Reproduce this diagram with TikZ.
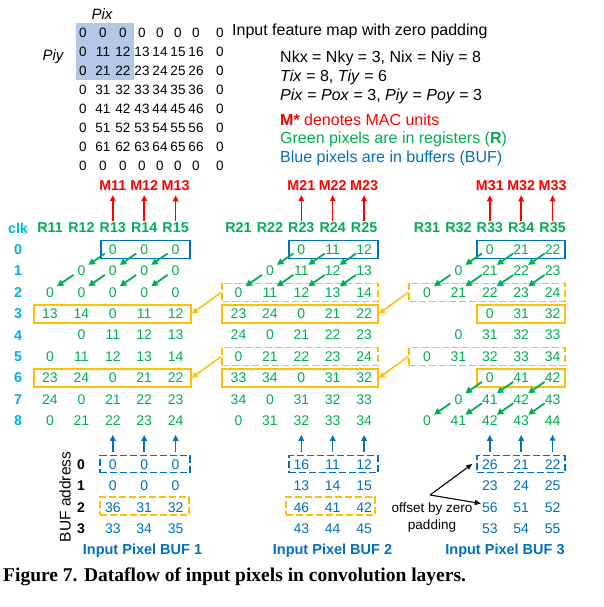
\documentclass[tikz,border=0pt]{standalone}
\usepackage{fontspec}
\setmainfont{Liberation Sans}
\newfontfamily\capfont{Liberation Serif}
\usetikzlibrary{arrows.meta}
\definecolor{cgreen}{HTML}{00B050}
\definecolor{cblue}{HTML}{0070C0}
\definecolor{cclk}{HTML}{00B0F0}
\definecolor{cyel}{HTML}{FFC000}
\definecolor{cred}{HTML}{FF0000}
\definecolor{chl}{HTML}{B4C7E7}
\tikzset{
 gnum/.style={text=cgreen, font=\fontsize{14}{14}\selectfont, inner sep=0pt},
 bnum/.style={text=cblue, font=\fontsize{14}{14}\selectfont, inner sep=0pt},
 mnum/.style={font=\fontsize{13.5}{13.5}\selectfont, inner sep=0pt},
 rlab/.style={text=cgreen, font=\bfseries\fontsize{14.3}{14.3}\selectfont, inner sep=0pt},
 mlab/.style={text=cred, font=\bfseries\fontsize{14.3}{14.3}\selectfont, inner sep=0pt},
 clab/.style={text=cclk, font=\bfseries\fontsize{14.3}{14.3}\selectfont, inner sep=0pt},
 buflab/.style={text=cblue, font=\bfseries\fontsize{14.5}{14.5}\selectfont, inner sep=0pt},
 addr/.style={font=\bfseries\fontsize{14}{14}\selectfont, inner sep=0pt},
 txt/.style={font=\fontsize{16}{16}\selectfont, inner sep=0pt, anchor=base west},
 boxbase/.style={minimum height=18pt, inner sep=0pt, line width=1.6pt},
 bluebox/.style={boxbase, draw=cblue},
 ybox/.style={boxbase, draw=cyel},
 ydash/.style={boxbase, draw=cyel, dash pattern=on 7pt off 3pt},
 bdash/.style={boxbase, minimum height=17pt, draw=cblue, dash pattern=on 7pt off 3pt},
 arrbase/.style={line width=1.5pt, -{Triangle[length=6pt,width=5.5pt]}},
 garrow/.style={arrbase, draw=cgreen, line width=1.8pt, -{Triangle[length=6.5pt,width=6.5pt]}},
 rarrow/.style={arrbase, draw=cred},
 barrow/.style={arrbase, draw=cblue},
 yarrow/.style={arrbase, draw=cyel},
 karrow/.style={line width=1.1pt, draw=black, -{Triangle[length=6pt,width=5pt]}},
}
\newcommand\grow[4]{\foreach \v [count=\k from #3] in {#4}{\node[gnum] (b#1r#2c\k) at ({50+188.5*(#1-1)+31.4*\k},{249.5+21.4*#2}) {\v};}}
\newcommand\brow[3]{\foreach \v [count=\k from 2] in {#3}{\node[bnum] (u#1r#2c\k) at ({50+188.5*(#1-1)+31.4*\k},{464.5+21.5*#2}) {\v};}}
\newcommand\mybox[5]{\node[#2, minimum width={(#4-#3)*1pt}] (#1) at ({(#3+#4)/2},#5) {};}
\newcommand\garr[3]{\pgfmathtruncatemacro\rn{#2+1}\pgfmathtruncatemacro\kn{#3-1}%
 \draw[garrow] ([shift={(-8,4)}]b#1r#2c#3.center) -- ([shift={(7,-6)}]b#1r\rn c\kn.center);}
\newcommand\mrow[2]{\foreach \v [count=\k from 0] in {#2}{\pgfmathsetmacro\mx{{83,103,123,142,160,178,196,220}[\k]}\node[mnum] (m#1c\k) at (\mx,{33+19*#1}) {\v};}}
\begin{document}
\begin{tikzpicture}[x=1pt,y=-1pt]
\path[use as bounding box, fill=white] (0,0) rectangle (603,607);
% input feature map
\node[fill=chl, minimum width=58pt, minimum height=57pt, inner sep=0pt] (hl) at (105,51.5) {};
\mrow{0}{0,0,0,0,0,0,0,0}
\mrow{1}{0,11,12,13,14,15,16,0}
\mrow{2}{0,21,22,23,24,25,26,0}
\mrow{3}{0,31,32,33,34,35,36,0}
\mrow{4}{0,41,42,43,44,45,46,0}
\mrow{5}{0,51,52,53,54,55,56,0}
\mrow{6}{0,61,62,63,64,65,66,0}
\mrow{7}{0,0,0,0,0,0,0,0}
\node[mnum, font=\itshape\fontsize{15}{15}\selectfont] (pix) at (102,14) {Pix};
\node[mnum, font=\itshape\fontsize{15}{15}\selectfont] (piy) at (53,57) {Piy};
% legend
\node[txt] (t0) at (232,35.5) {Input feature map with zero padding};
\node[txt] (t1) at (280,62.5) {Nkx = Nky = 3, Nix = Niy = 8};
\node[txt] (t2) at (280,82) {\textit{Tix} = 8, \textit{Tiy} = 6};
\node[txt] (t3) at (280,100.5) {\textit{Pix} = \textit{Pox} = 3, \textit{Piy} = \textit{Poy} = 3};
\node[txt, text=cred] (t4) at (280,125.5) {\textbf{M*} denotes MAC units};
\node[txt, text=cgreen] (t5) at (280,143.5) {Green pixels are in registers (\textbf{R})};
\node[txt, text=cblue] (t6) at (280,162.5) {Blue pixels are in buffers (BUF)};
% clk column
\node[clab] (clk) at (18,228) {clk};
\foreach \r in {0,...,8} {\node[clab] (clk\r) at (18,{249.5+21.4*\r}) {\r};}
% register and MAC labels
\foreach \b in {1,2,3} {
 \foreach \k in {0,...,4} {
  \pgfmathtruncatemacro\kk{\k+1}
  \node[rlab] (R\b\kk) at ({50+188.5*(\b-1)+31.4*\k},228) {R\b\kk};
 }
 \foreach \k in {2,3,4} {
  \pgfmathtruncatemacro\kk{\k+1}\pgfmathtruncatemacro\mm{\k-1}
  \node[mlab] (M\b\mm) at ({50+188.5*(\b-1)+31.4*\k},186) {M\b\mm};
  \draw[rarrow] ([yshift=2pt]R\b\kk.north) -- ([yshift=-4pt]M\b\mm.south);
 }
}
% boxes
\mybox{bb1}{bluebox}{101}{190}{249.5}
\mybox{s1a}{ybox}{34}{191}{313.7}
\mybox{s1b}{ybox}{34}{191}{377.9}
\mybox{bb2}{bluebox}{289}{378}{249.5}
\mybox{d2a}{ydash}{222}{378}{292.3}
\mybox{s2a}{ybox}{222}{378}{313.7}
\mybox{d2b}{ydash}{222}{378}{356.5}
\mybox{s2b}{ybox}{222}{378}{377.9}
\mybox{bb3}{bluebox}{477}{565}{249.5}
\mybox{d3a}{ydash}{409}{565}{292.3}
\mybox{s3a}{ybox}{477}{565}{313.7}
\mybox{d3b}{ydash}{409}{565}{356.5}
\mybox{s3b}{ybox}{477}{565}{377.9}
% block 1
\grow{1}{0}{2}{0,0,0}
\grow{1}{1}{1}{0,0,0,0}
\grow{1}{2}{0}{0,0,0,0,0}
\grow{1}{3}{0}{13,14,0,11,12}
\grow{1}{4}{1}{0,11,12,13}
\grow{1}{5}{0}{0,11,12,13,14}
\grow{1}{6}{0}{23,24,0,21,22}
\grow{1}{7}{0}{24,0,21,22,23}
\grow{1}{8}{0}{0,21,22,23,24}
% block 2
\grow{2}{0}{2}{0,11,12}
\grow{2}{1}{1}{0,11,12,13}
\grow{2}{2}{0}{0,11,12,13,14}
\grow{2}{3}{0}{23,24,0,21,22}
\grow{2}{4}{0}{24,0,21,22,23}
\grow{2}{5}{0}{0,21,22,23,24}
\grow{2}{6}{0}{33,34,0,31,32}
\grow{2}{7}{0}{34,0,31,32,33}
\grow{2}{8}{0}{0,31,32,33,34}
% block 3
\grow{3}{0}{2}{0,21,22}
\grow{3}{1}{1}{0,21,22,23}
\grow{3}{2}{0}{0,21,22,23,24}
\grow{3}{3}{2}{0,31,32}
\grow{3}{4}{1}{0,31,32,33}
\grow{3}{5}{0}{0,31,32,33,34}
\grow{3}{6}{2}{0,41,42}
\grow{3}{7}{1}{0,41,42,43}
\grow{3}{8}{0}{0,41,42,43,44}
% green shift arrows
\foreach \b in {1,2,3} {
 \foreach \k in {2,3,4} {\garr{\b}{0}{\k}}
 \foreach \k in {1,2,3,4} {\garr{\b}{1}{\k}}
}
\foreach \k in {2,3,4} {\garr{3}{6}{\k}}
\foreach \k in {1,2,3,4} {\garr{3}{7}{\k}}
% yellow arrows
\draw[yarrow] (d2a.west) -- (s1a.east);
\draw[yarrow] (d2b.west) -- (s1b.east);
\draw[yarrow] (d3a.west) -- (s2a.east);
\draw[yarrow] (d3b.west) -- (s2b.east);
% buffers
\mybox{ub1}{bdash}{100}{190}{464}
\mybox{ub2}{bdash}{289}{378}{464}
\mybox{ub3}{bdash}{477}{565}{464}
\mybox{uy1}{ydash}{100}{189}{506}
\mybox{uy2}{ydash}{286}{375}{506}
\brow{1}{0}{0,0,0}
\brow{1}{1}{0,0,0}
\brow{1}{2}{36,31,32}
\brow{1}{3}{33,34,35}
\brow{2}{0}{16,11,12}
\brow{2}{1}{13,14,15}
\brow{2}{2}{46,41,42}
\brow{2}{3}{43,44,45}
\brow{3}{0}{26,21,22}
\brow{3}{1}{23,24,25}
\brow{3}{2}{56,51,52}
\brow{3}{3}{53,54,55}
\foreach \b in {1,2,3} {
 \foreach \k in {2,3,4} {
  \draw[barrow] ([yshift=7pt]u\b r0c\k.north) -- ([yshift=-9pt]b\b r8c\k.south);
 }
}
\node[font=\fontsize{15.5}{15.5}\selectfont, rotate=90, inner sep=0pt] (bufaddr) at (65,497) {BUF address};
\foreach \r in {0,...,3} {\node[addr] (a\r) at (81,{464.5+21.5*\r}) {\r};}
\node[buflab] (buf1) at (142.5,551) {Input Pixel BUF 1};
\node[buflab] (buf2) at (332.5,551) {Input Pixel BUF 2};
\node[buflab] (buf3) at (505,551) {Input Pixel BUF 3};
% offset note
\coordinate (obz) at (430,495);
\draw[karrow] (obz) -- ([xshift=-4pt]ub3.west);
\draw[karrow] (obz) -- ([shift={(-1,-4)}]u3r2c2.west);
\node[align=center, font=\fontsize{13.5}{17}\selectfont, inner sep=0pt] (ofs) at (432,518) {offset by zero\\padding};
% caption
\node[anchor=base west, font=\capfont\bfseries\fontsize{19.5}{19.5}\selectfont, inner sep=0pt] (cap) at (3,581.5) {Figure 7. Dataflow of input pixels in convolution layers.};
\end{tikzpicture}
\end{document}
